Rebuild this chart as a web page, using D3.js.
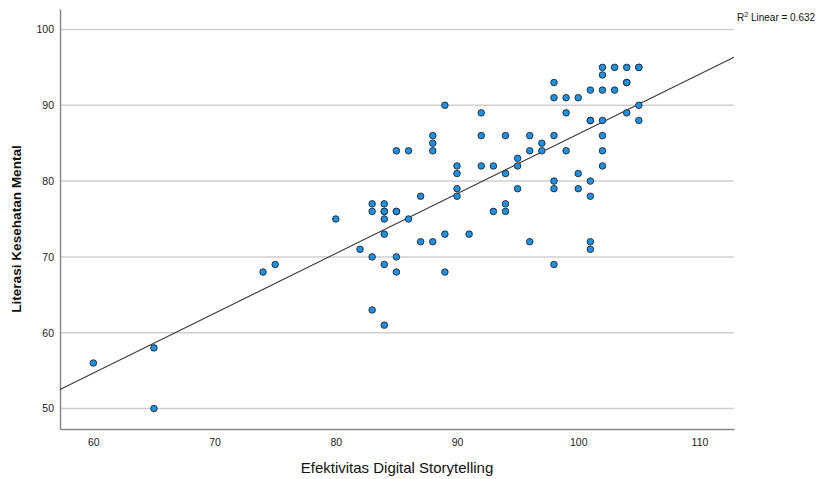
<!DOCTYPE html>
<html>
<head>
<meta charset="utf-8">
<script src="https://cdn.jsdelivr.net/npm/d3@7"></script>
<style>
  body { margin: 0; background: #fff; }
  svg { display: block; }
  .tick text { font-family: "Liberation Sans", Arial, sans-serif; font-size: 10.5px; fill: #222; }
</style>
</head>
<body>
<svg id="chart" width="818" height="479"></svg>
<script>
// Data (x = Efektivitas Digital Storytelling, y = Literasi Kesehatan Mental)
const xValues = [60,65,65,74,75,80,82,
  83,83,83,83, 84,84,84,84,84,84,84, 85,85,85,85,85, 86,86, 87,87,
  88,88,88,88, 89,89,89, 90,90,90,90, 91, 92,92,92, 93,93,
  94,94,94,94, 95,95,95, 96,96,96, 97,97,
  98,98,98,98,98,98, 99,99,99, 100,100,100,
  101,101,101,101,101,101,101,
  102,102,102,102,102,102,102, 103,103, 104,104,104,104, 105,105,105,105];
const yValues = [56,58,50,68,69,75,71,
  77,76,70,63, 77,76,76,75,73,69,61, 84,76,76,70,68, 84,75, 78,72,
  86,85,84,72, 90,73,68, 82,81,79,78, 73, 89,86,82, 82,76,
  86,81,77,76, 83,82,79, 86,84,72, 85,84,
  93,91,86,80,79,69, 91,89,84, 91,81,79,
  92,88,88,80,78,72,71,
  95,94,92,88,86,84,82, 95,92, 95,93,93,89, 95,95,90,88];
const xTicks = [60,70,80,90,100,110];
const yTicks = [50,60,70,80,90,100];
const xDomain = [57.25, 112.85];
const yDomain = [47.3, 102.7];
const r2Label = "0.632";
const xTitle = "Efektivitas Digital Storytelling";
const yTitle = "Literasi Kesehatan Mental";

const points = xValues.map((x, i) => ({x, y: yValues[i]}));

const svg = d3.select("#chart");
const mLeft = 60, mRight = 734, mTop = 9, mBottom = 429;

const x = d3.scaleLinear().domain(xDomain).range([mLeft, mRight]);
const y = d3.scaleLinear().domain(yDomain).range([mBottom, mTop]);

// gridlines
svg.append("g")
  .selectAll("line")
  .data(yTicks)
  .join("line")
  .attr("x1", mLeft).attr("x2", mRight)
  .attr("y1", d => y(d)).attr("y2", d => y(d))
  .attr("stroke", "#cfcfcf").attr("stroke-width", 1.5);

// axes
const xAxis = svg.append("g")
  .attr("transform", `translate(0,${mBottom})`)
  .call(d3.axisBottom(x).tickValues(xTicks).tickSize(0).tickPadding(10).tickFormat(d3.format("d")));
xAxis.select(".domain").attr("stroke", "#8a8a8a").attr("stroke-width", 1.5);

const yAxis = svg.append("g")
  .attr("transform", `translate(${mLeft},0)`)
  .call(d3.axisLeft(y).tickValues(yTicks).tickSize(0).tickPadding(6).tickFormat(d3.format("d")));
yAxis.select(".domain").attr("stroke", "#8a8a8a").attr("stroke-width", 1.5);

// least squares fit
const mx = d3.mean(points, d => d.x), my = d3.mean(points, d => d.y);
const sxy = d3.sum(points, d => (d.x - mx) * (d.y - my));
const sxx = d3.sum(points, d => (d.x - mx) ** 2);
const slope = sxy / sxx, intercept = my - slope * mx;

svg.append("line")
  .attr("x1", x(xDomain[0])).attr("y1", y(intercept + slope * xDomain[0]))
  .attr("x2", x(xDomain[1])).attr("y2", y(intercept + slope * xDomain[1]))
  .attr("stroke", "#3a3a3a").attr("stroke-width", 1.1);

// points
svg.append("g")
  .selectAll("circle")
  .data(points)
  .join("circle")
  .attr("cx", d => x(d.x)).attr("cy", d => y(d.y))
  .attr("r", 3.3)
  .attr("fill", "#1e8fe1")
  .attr("stroke", "#1a1a1a").attr("stroke-width", 0.8);

// titles
svg.append("text")
  .attr("x", (mLeft + mRight) / 2).attr("y", 473)
  .attr("text-anchor", "middle")
  .attr("font-family", "'Liberation Sans', Arial, sans-serif")
  .attr("font-size", 15).attr("fill", "#111")
  .text(xTitle);

svg.append("text")
  .attr("transform", `translate(21,229) rotate(-90)`)
  .attr("text-anchor", "middle")
  .attr("font-family", "'Liberation Sans', Arial, sans-serif")
  .attr("font-size", 13.6).attr("font-weight", "bold").attr("fill", "#111")
  .text(yTitle);

// R2 label
const r2 = svg.append("text")
  .attr("x", 737).attr("y", 21)
  .attr("font-family", "'Liberation Sans', Arial, sans-serif")
  .attr("font-size", 10).attr("fill", "#111");
r2.append("tspan").text("R");
r2.append("tspan").attr("font-size", 7).attr("dy", -4).text("2");
r2.append("tspan").attr("dy", 4).text(" Linear = " + r2Label);
</script>
</body>
</html>
